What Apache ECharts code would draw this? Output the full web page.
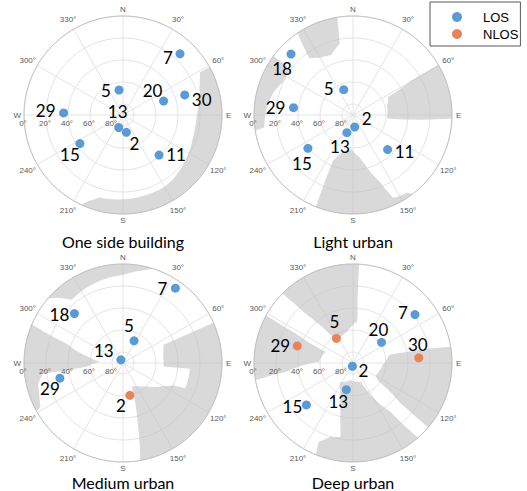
<!DOCTYPE html>
<html>
<head>
<meta charset="utf-8">
<script src="https://cdn.jsdelivr.net/npm/echarts@6/dist/echarts.min.js"></script>
<style>html,body{margin:0;padding:0;background:#fff}#c{width:527px;height:491px}</style>
</head>
<body>
<div id="c"></div>
<script>
// ---------- tick labels ----------
const angleTicks = [0, 30, 60, 90, 120, 150, 180, 210, 240, 270, 300, 330];
const angleTickLabels = ['N', '30°', '60°', 'E', '120°', '150°', 'S', '210°', '240°', 'W', '300°', '330°'];
const elevTicks = [0, 20, 40, 60, 80];
const elevTickLabels = ['0°', '20°', '40°', '60°', '80°'];
const panelTitles = ['One side building', 'Light urban', 'Medium urban', 'Deep urban'];
const legendNames = ['LOS', 'NLOS'];

// ---------- satellites: PRN, azimuth (deg), elevation (deg), NLOS flag ----------
const sats1 = [7, 30, 20, 5, 29, 13, 2, 15, 11];
const az1   = [43, 72, 71, 351, 272, 199, 169, 236.5, 138];
const el1   = [14, 31, 51, 67, 36, 78, 74, 43, 41];
const nlos1 = [0, 0, 0, 0, 0, 0, 0, 0, 0];

const sats2 = [18, 5, 29, 2, 13, 15, 11];
const az2   = [314.5, 340, 277, 172, 199, 233.5, 135];
const el2   = [11, 65.5, 35.5, 79, 73, 39, 45.5];
const nlos2 = [0, 0, 0, 0, 0, 0, 0];

const sats3 = [7, 18, 5, 13, 29, 2];
const az3   = [35, 315.5, 26.5, 326, 256.5, 168];
const el3   = [7, 27, 67.5, 86.5, 31, 60];
const nlos3 = [0, 0, 0, 0, 0, 1];

const sats4 = [7, 20, 30, 5, 29, 2, 13, 15];
const az4   = [52, 54, 85.5, 326, 287, 190, 194, 228];
const el4   = [18.5, 58, 30, 63, 37, 87, 65, 33];
const nlos4 = [0, 0, 1, 1, 1, 0, 0, 0];

// ---------- obstruction masks: polygons of [azimuth, elevation] ----------
const mask1 = [
  [[61,0],[61,10],[65,13],[70,16],[80,20],[90,23],[100,23.5],[110,23],[120,21],[132,18.5],[142,16],[151,14.6],[166,14.2],[180,13.4],[196,12],[202,5.6],[205,0]]
];
const mask2 = [
  [[326,0],[322.4,25],[330,30],[340,32],[345,28],[349.5,24],[351,0]],
  [[261,0],[262,8.6],[273,11],[285,14.5],[290,17],[295,19.5],[304,20],[306.5,14],[306.5,0]],
  [[59.5,0],[59.4,28],[63,54],[75,58],[96,59],[92,0]],
  [[143,0],[145,4],[154,6],[158,24],[166.5,44],[171,51],[183,59],[195.7,56],[201.5,48.6],[203.7,44.6],[202,0]]
];
const mask3 = [
  [[311,0],[321,16],[334,14],[347,12],[360,10],[372,4],[378,0]],
  [[241,0],[242,5],[250,9],[256,10.5],[262.5,16.5],[262.5,41],[264,56.6],[273,69],[280,58],[289,36],[293,0]],
  [[66,0],[66,50],[80,53],[95,53],[95,29],[112,29],[114,40],[120,48],[135,60],[150,66],[160,67],[166,36],[170,0]]
];
const mask4 = [
  [[314.5,0],[316.3,30],[321.7,59.4],[328,65.3],[349.5,61],[365.8,52],[364,30],[363.5,0]],
  [[260,0],[262.5,29],[272,59],[292.3,63],[297.3,31],[298.7,0]],
  [[80.5,0],[77.4,56.5],[94,63],[118,66.7],[125,63],[130.3,33.4],[130.6,0]],
  [[139,0],[142.4,34],[153.7,64.2],[158,71.6],[188,74.3],[213.4,69.4],[202.3,60],[194.6,45],[190.9,30],[189.6,21.7],[197,20],[203.5,12],[202,0]]
];

// ---------- label offsets (layout only, px) ----------
const labelOffsets1 = [[-12,4],[17,5],[-11,-11],[-13,0],[-18,-2],[-1,-16],[8,11],[-10,11],[17,-1]];
const labelOffsets2 = [[-9,14],[-15,-1],[-18,0],[12,-8],[-7,14],[-6,15],[17,2]];
const labelOffsets3 = [[-13,0],[-15,1],[-5,-15],[-17,-9],[-10,10],[-9,10]];
const labelOffsets4 = [[-12,-2],[-3,-13],[-1,-13],[-2,-17],[-17,0],[11,4],[-8,12],[-14,2]];

// ---------- layout / style ----------
const R = 99;
const COLORS = ['#5B9BD5', '#E8845A'];
const MASK_FILL = 'rgba(191,191,191,0.6)';
const GRID = '#e4e4e4';

const panels = [
  {title: panelTitles[0], sats: sats1, az: az1, el: el1, nlos: nlos1, mask: mask1, off: labelOffsets1, center: [123, 115], titleY: 241},
  {title: panelTitles[1], sats: sats2, az: az2, el: el2, nlos: nlos2, mask: mask2, off: labelOffsets2, center: [353, 115], titleY: 241},
  {title: panelTitles[2], sats: sats3, az: az3, el: el3, nlos: nlos3, mask: mask3, off: labelOffsets3, center: [123, 363], titleY: 482},
  {title: panelTitles[3], sats: sats4, az: az4, el: el4, nlos: nlos4, mask: mask4, off: labelOffsets4, center: [353, 363], titleY: 482}
];

function maskRenderer(polys) {
  return function (params, api) {
    const poly = polys[params.dataIndex];
    const pts = [];
    for (let k = 0; k < poly.length; k++) {
      const a = poly[k], b = poly[(k + 1) % poly.length];
      const n = Math.max(1, Math.ceil(Math.abs(b[0] - a[0]) / 0.5));
      for (let s = 0; s < n; s++) {
        const t = s / n;
        pts.push(api.coord([a[1] + (b[1] - a[1]) * t, a[0] + (b[0] - a[0]) * t]));
      }
    }
    return {type: 'polygon', shape: {points: pts}, style: {fill: MASK_FILL, stroke: null}, silent: true};
  };
}

function angleLabelRenderer(params, api) {
  const txt = angleTickLabels[params.dataIndex];
  const off = txt.length === 1 ? -6 : -10;
  const pt = api.coord([off, api.value(1)]);
  return {type: 'text', x: pt[0], y: pt[1], silent: true,
    style: {text: txt, fill: '#595959', font: '8px "Liberation Sans", Arial, sans-serif',
      align: 'center', verticalAlign: 'middle', textAlign: 'center', textVerticalAlign: 'middle'}};
}

function elevLabelRenderer(params, api) {
  const txt = elevTickLabels[params.dataIndex];
  const pt = api.coord([api.value(0), api.value(1)]);
  return {type: 'text', x: pt[0] - 1, y: pt[1] + 8, silent: true,
    style: {text: txt, fill: '#595959', font: '8px "Liberation Sans", Arial, sans-serif',
      align: 'center', verticalAlign: 'middle', textAlign: 'center', textVerticalAlign: 'middle'}};
}

const option = {
  animation: false,
  backgroundColor: '#fff',
  polar: [], angleAxis: [], radiusAxis: [], series: [], graphic: [],
  legend: {
    data: legendNames, orient: 'vertical', left: 430, top: 2,
    icon: 'circle', itemWidth: 10, itemHeight: 10, itemGap: 3,
    padding: [8, 2, 5, 22], borderColor: '#595959', borderWidth: 1,
    selectedMode: false,
    textStyle: {fontSize: 13, fontFamily: '"Liberation Sans", Arial, sans-serif', color: '#000', padding: [0, 0, 0, 16], lineHeight: 14}
  }
};

panels.forEach((p, i) => {
  option.polar.push({center: p.center, radius: R});
  option.angleAxis.push({
    polarIndex: i, type: 'value', min: 0, max: 360, interval: 30, startAngle: 90, clockwise: true,
    axisLine: {show: true, lineStyle: {color: '#c4c4c4', width: 1}},
    axisTick: {show: false}, axisLabel: {show: false},
    splitLine: {show: true, lineStyle: {color: GRID, width: 1}}
  });
  option.radiusAxis.push({
    polarIndex: i, type: 'value', min: 0, max: 90, interval: 20, inverse: true,
    axisLine: {show: false}, axisTick: {show: false}, axisLabel: {show: false},
    splitLine: {show: true, lineStyle: {color: GRID, width: 1}}
  });
  option.series.push({
    type: 'custom', coordinateSystem: 'polar', polarIndex: i, silent: true, z: 1,
    data: p.mask.map(() => [0, 0]), renderItem: maskRenderer(p.mask)
  });
  option.series.push({
    type: 'custom', coordinateSystem: 'polar', polarIndex: i, silent: true, z: 1,
    data: angleTicks.map(a => [0, a]), renderItem: angleLabelRenderer
  });
  option.series.push({
    type: 'custom', coordinateSystem: 'polar', polarIndex: i, silent: true, z: 1,
    data: elevTicks.map(e => [e, 270]), renderItem: elevLabelRenderer
  });
  legendNames.forEach((nm, t) => {
    const data = [];
    p.sats.forEach((s, k) => {
      if (p.nlos[k] === t) data.push({name: String(s), value: [p.el[k], p.az[k]], label: {offset: p.off[k]}});
    });
    option.series.push({
      type: 'scatter', name: nm, coordinateSystem: 'polar', polarIndex: i,
      symbol: 'circle', symbolSize: 9, clip: false, silent: true, z: 5,
      itemStyle: {color: COLORS[t], opacity: 1},
      label: {show: true, position: 'inside', formatter: '{b}', fontSize: 17, lineHeight: 12,
        fontFamily: 'Lato, "Open Sans", sans-serif', color: '#000'},
      emphasis: {disabled: true},
      data: data
    });
  });
  option.graphic.push({
    type: 'text', x: p.center[0], y: p.titleY, silent: true,
    style: {text: p.title, fill: '#000', font: '16px Lato, "Open Sans", sans-serif',
      align: 'center', verticalAlign: 'middle', textAlign: 'center', textVerticalAlign: 'middle'}
  });
});

const chart = echarts.init(document.getElementById('c'), null, {renderer: 'svg', width: 527, height: 491});
chart.setOption(option);
</script>
</body>
</html>
